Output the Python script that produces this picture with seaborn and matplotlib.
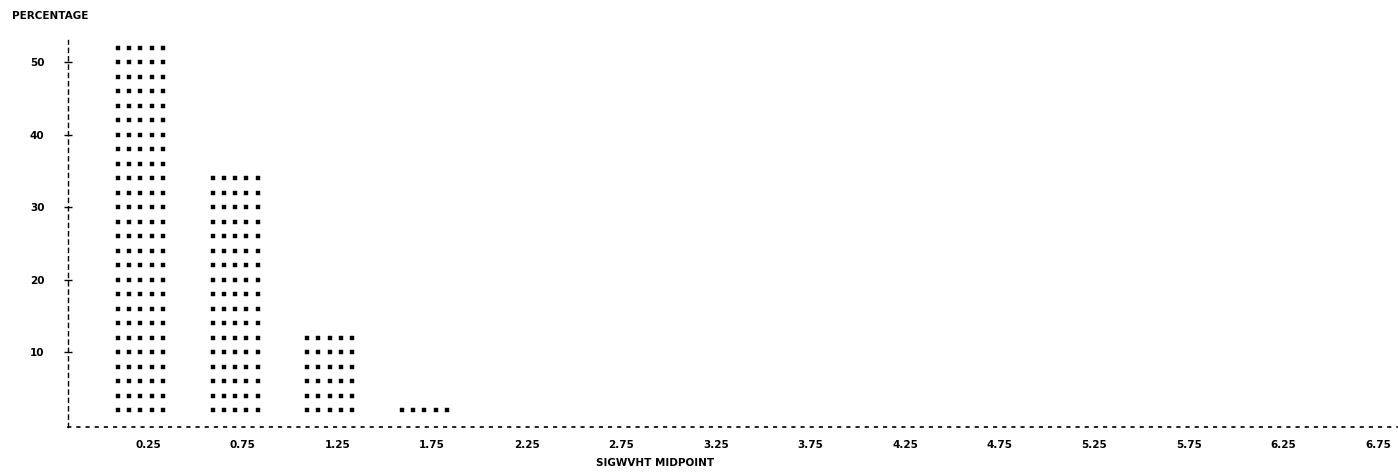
import numpy as np
import pandas as pd
import matplotlib
matplotlib.use('Agg')
import matplotlib.pyplot as plt
import seaborn as sns

# ---------------------------------------------------------------
# data: percentage of cases per SIGWVHT midpoint
# ---------------------------------------------------------------
midpoints = [0.25, 0.75, 1.25, 1.75, 2.25, 2.75, 3.25,
             3.75, 4.25, 4.75, 5.25, 5.75, 6.25, 6.75]
percentage = [52, 34, 12, 2, 0, 0, 0, 0, 0, 0, 0, 0, 0, 0]
tick_labels = ['0.25', '0.75', '1.25', '1.75', '2.25', '2.75', '3.25',
               '3.75', '4.25', '4.75', '5.25', '5.75', '6.25', '6.75']
y_ticks = [10, 20, 30, 40, 50]

# line printer style: every symbol row stands for 2 percent,
# each bar is 5 symbols wide
ROW_STEP = 2
N_COLS = 5
COL_GAP = 0.119
SHIFT = -0.08

rows = []
for i, (mid, pct) in enumerate(zip(midpoints, percentage)):
    for level in range(ROW_STEP, int(pct) + 1, ROW_STEP):
        for c in range(N_COLS):
            rows.append({'pos': i + SHIFT + (c - (N_COLS - 1) / 2) * COL_GAP,
                         'pct': level, 'mid': mid})
points = pd.DataFrame(rows)

# ---------------------------------------------------------------
# plot
# ---------------------------------------------------------------
sns.set_style('white')
plt.rcParams['font.family'] = ['DejaVu Sans']
plt.rcParams['text.color'] = 'black'
plt.rcParams['xtick.color'] = 'black'
plt.rcParams['ytick.color'] = 'black'

fig = plt.figure(figsize=(13.98, 4.76), dpi=100)
ax = fig.add_axes([68 / 1398, 1 - 427 / 476, 1 - 68 / 1398, (427 - 40) / 476])

sns.scatterplot(data=points, x='pos', y='pct', marker='s', s=11,
                color='black', edgecolor='black', linewidth=0.3, ax=ax,
                legend=False)

ax.set_xlim(-0.846, 13.21)
ax.set_ylim(-0.3, 53.1)

ax.set_xticks(range(len(midpoints)))
ax.set_xticklabels(tick_labels, fontsize=7.5, fontweight='bold')
ax.set_yticks(y_ticks)
ax.set_yticklabels([str(v) for v in y_ticks], fontsize=7.5, fontweight='bold')
ax.tick_params(axis='x', length=0, pad=9)
ax.tick_params(axis='y', direction='inout', length=6, width=1, pad=14,
               left=True, color='black')
ax.set_xlabel('')
ax.set_ylabel('')

for side in ['top', 'right']:
    ax.spines[side].set_visible(False)
ax.spines['left'].set_linestyle((0, (3, 3)))
ax.spines['left'].set_linewidth(1.0)
ax.spines['bottom'].set_linestyle((0, (1.5, 4)))
ax.spines['bottom'].set_linewidth(1.2)
for side in ['left', 'bottom']:
    ax.spines[side].set_color('black')

fig.text(12 / 1398, 1 - 16 / 476, 'PERCENTAGE', fontsize=7.5,
         fontweight='bold', va='center', ha='left')
fig.text(655 / 1398, 1 - 463 / 476, 'SIGWVHT MIDPOINT', fontsize=7.5,
         fontweight='bold', va='center', ha='center')

fig.savefig('out.png', dpi=100, facecolor='white')
